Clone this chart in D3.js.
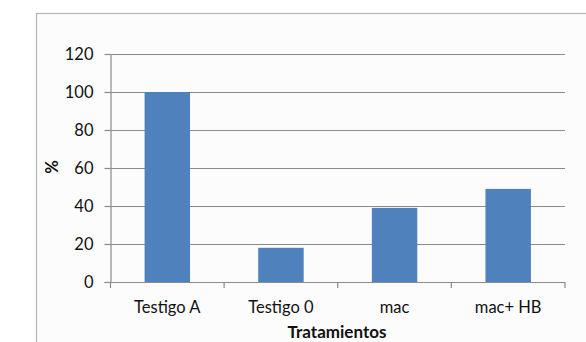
<!DOCTYPE html>
<html>
<head>
<meta charset="utf-8">
<script src="https://cdn.jsdelivr.net/npm/d3@7"></script>
<style>
  html, body { margin: 0; padding: 0; background: #ffffff; }
  svg { display: block; }
  text { font-family: Lato, "Open Sans", sans-serif; fill: #111111; }
</style>
</head>
<body>
<svg id="chart" width="586" height="342"></svg>
<script>
// Treatments and their percentage values
const categories = ["Testigo A", "Testigo 0", "mac", "mac+ HB"];
const values = [100, 18, 39, 49];
const yTicks = [0, 20, 40, 60, 80, 100, 120];
const xTitle = "Tratamientos";
const yTitle = "%";

const svg = d3.select("#chart");

// Chart frame
svg.append("rect")
  .attr("x", 36.5).attr("y", 13.5)
  .attr("width", 600).attr("height", 400)
  .attr("fill", "#fcfcfc")
  .attr("stroke", "#b4b4b4").attr("stroke-width", 1.2);

const plot = { left: 110.5, right: 565, top: 54, bottom: 282 };

const x = d3.scaleBand()
  .domain(categories)
  .range([plot.left, plot.right])
  .paddingInner(0.6)
  .paddingOuter(0.3);

const y = d3.scaleLinear()
  .domain([0, 120])
  .range([plot.bottom, plot.top]);

// Horizontal gridlines
svg.append("g")
  .selectAll("line")
  .data(yTicks.filter(d => d > 0))
  .join("line")
  .attr("x1", plot.left).attr("x2", plot.right)
  .attr("y1", d => Math.round(y(d)) + 0.5)
  .attr("y2", d => Math.round(y(d)) + 0.5)
  .attr("stroke", "#8a8a8a").attr("stroke-width", 1.2);

// Bars
svg.append("g")
  .selectAll("rect")
  .data(values)
  .join("rect")
  .attr("x", (d, i) => x(categories[i]))
  .attr("width", x.bandwidth())
  .attr("y", d => y(d))
  .attr("height", d => y(0) - y(d))
  .attr("fill", "#4f81bd");

// Y axis
const yAxis = svg.append("g")
  .attr("transform", `translate(${plot.left},0)`)
  .call(d3.axisLeft(y).tickValues(yTicks).tickSize(6).tickPadding(11).tickSizeOuter(0));
yAxis.select(".domain").attr("stroke", "#8a8a8a").attr("stroke-width", 1.2);
yAxis.selectAll(".tick line").attr("stroke", "#8a8a8a").attr("stroke-width", 1.2);
yAxis.selectAll(".tick text")
  .attr("font-size", 16.5).attr("fill", "#111111")
  .style("font-family", "Lato, sans-serif");

// X axis with tick marks at category boundaries
const xAxisG = svg.append("g");
xAxisG.append("line")
  .attr("x1", plot.left - 6).attr("x2", plot.right)
  .attr("y1", plot.bottom + 0.5).attr("y2", plot.bottom + 0.5)
  .attr("stroke", "#8a8a8a").attr("stroke-width", 1.2);
const bounds = d3.range(categories.length + 1)
  .map(i => plot.left + (plot.right - plot.left) * i / categories.length);
xAxisG.selectAll("line.tk")
  .data(bounds)
  .join("line")
  .attr("class", "tk")
  .attr("x1", d => d).attr("x2", d => d)
  .attr("y1", plot.bottom).attr("y2", plot.bottom + 6)
  .attr("stroke", "#8a8a8a").attr("stroke-width", 1.2);
xAxisG.selectAll("text")
  .data(categories)
  .join("text")
  .attr("x", d => x(d) + x.bandwidth() / 2)
  .attr("y", 313)
  .attr("text-anchor", "middle")
  .attr("font-size", 16.5)
  .text(d => d);

// Axis titles
svg.append("text")
  .attr("x", 337).attr("y", 337.5)
  .attr("text-anchor", "middle")
  .attr("font-size", 17).attr("font-weight", "bold")
  .text(xTitle);

svg.append("text")
  .attr("transform", "translate(58,167) rotate(-90)")
  .attr("text-anchor", "middle")
  .attr("font-size", 16.5).attr("font-weight", "bold")
  .text(yTitle);
</script>
</body>
</html>
